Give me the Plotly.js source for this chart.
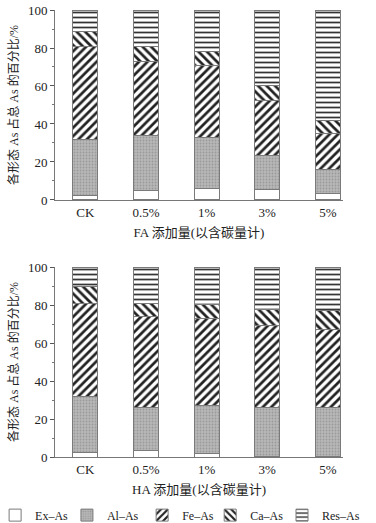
<!DOCTYPE html>
<html><head><meta charset="utf-8">
<script src="https://cdn.plot.ly/plotly-3.0.1.min.js"></script>
<style>html,body{margin:0;padding:0;background:#fff}#c{width:376px;height:523px}</style>
</head><body><div id="c"></div>
<script>
const categories = ['CK', '0.5%', '1%', '3%', '5%'];
const fractions = ['Ex–As', 'Al–As', 'Fe–As', 'Ca–As', 'Res–As'];
// FA (top)
const faEx  = [2.6, 4.9, 6.0, 5.3, 3.5];
const faAl  = [29.3, 28.8, 26.8, 18.0, 12.3];
const faFe  = [48.8, 39.1, 38.2, 29.3, 19.3];
const faCa  = [8.0, 7.9, 7.4, 7.9, 7.0];
const faRes = [11.3, 19.3, 21.6, 39.5, 57.9];
// HA (bottom)
const haEx  = [2.6, 3.5, 2.0, 0.5, 0.5];
const haAl  = [29.3, 22.8, 25.2, 25.8, 25.8];
const haFe  = [48.8, 47.4, 45.6, 43.0, 40.7];
const haCa  = [8.8, 7.0, 7.4, 8.2, 10.2];
const haRes = [10.5, 19.3, 19.8, 22.5, 22.8];

const yTitle = '各形态 As 占总 As 的百分比/%';
const faTitle = 'FA 添加量(以含碳量计)';
const haTitle = 'HA 添加量(以含碳量计)';

const styles = [
  {color:'#ffffff', pattern:{shape:''}},
  {color:'#b4b4b4', pattern:{shape:'.', fgcolor:'#9a9a9a', bgcolor:'#b8b8b8', size:3, solidity:0.3}},
  {color:'#ffffff', pattern:{shape:'/', fgcolor:'#222', bgcolor:'#fff', size:6, solidity:0.45}},
  {color:'#ffffff', pattern:{shape:'\\', fgcolor:'#222', bgcolor:'#fff', size:6, solidity:0.45}},
  {color:'#ffffff', pattern:{shape:'-', fgcolor:'#333', bgcolor:'#fff', size:5, solidity:0.35}}
];
const legendIds = ['legend', 'legend2', 'legend3', 'legend4', 'legend5'];
const faData = [faEx, faAl, faFe, faCa, faRes];
const haData = [haEx, haAl, haFe, haCa, haRes];
const traces = [];
[faData, haData].forEach((set, k) => {
  set.forEach((vals, i) => {
    traces.push({
      type:'bar', x:categories, y:vals, name:fractions[i],
      xaxis: k===0 ? 'x' : 'x2', yaxis: k===0 ? 'y' : 'y2',
      width:0.41, showlegend: k===1, legendgroup:fractions[i],
      legend: legendIds[i],
      marker:{color:styles[i].color, pattern:styles[i].pattern, line:{color:'#7a7a7a', width:1}}
    });
  });
});
const font = {family:'"Liberation Serif", "Noto Sans CJK SC", serif', size:13, color:'#222'};
const xdom = [55/376, 343/376];
const xa = (title, anchor) => ({
  type:'category', domain:xdom, anchor:anchor, range:[-0.5,4.25], showline:true, linecolor:'#777', linewidth:1,
  ticks:'', tickfont:{...font, size:13}, title:{text:title, font:{...font, size:13}, standoff:9},
  fixedrange:true
});
const ya = (dom, anchor) => ({
  domain:dom, anchor:anchor, range:[0,100], tickvals:[0,20,40,60,80,100], showline:true,
  linecolor:'#777', linewidth:1, ticks:'outside', ticklen:4, tickcolor:'#555', showgrid:false,
  zeroline:false, tickfont:{...font, size:13},
  minor:{dtick:10, ticks:'outside', ticklen:2, tickcolor:'#777'},
  title:{text:yTitle, font:{...font, size:12}, standoff:6}
});
const legBase = {orientation:'h', xref:'paper', yref:'paper', xanchor:'left', y:-0.13, yanchor:'middle',
  itemwidth:30, font:{...font, size:12}, traceorder:'normal', tracegroupgap:0, bgcolor:'rgba(0,0,0,0)'};
const legendX = [-0.013, 0.178, 0.378, 0.559, 0.75];
const layout = {
  width:376, height:523, barmode:'stack', bargap:0,
  margin:{l:0, r:0, t:10, b:66, autoexpand:false}, paper_bgcolor:'#fff', plot_bgcolor:'#fff', font:font,
  xaxis: xa(faTitle, 'y'), yaxis: ya([0.575,1], 'x'),
  xaxis2: xa(haTitle, 'y2'), yaxis2: ya([0,0.425], 'x2')
};
legendIds.forEach((id, i) => { layout[id] = {...legBase, x:legendX[i]}; });
Plotly.newPlot('c', traces, layout, {staticPlot:true, displayModeBar:false});
</script></body></html>
